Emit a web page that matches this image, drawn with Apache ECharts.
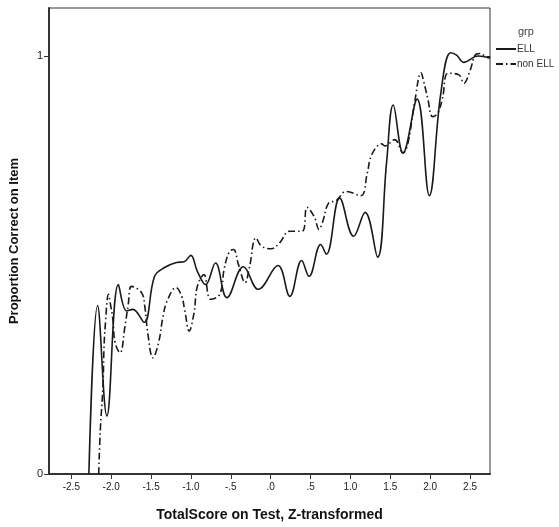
<!DOCTYPE html>
<html>
<head>
<meta charset="utf-8">
<script src="https://cdn.jsdelivr.net/npm/echarts@6/dist/echarts.min.js"></script>
<style>
  html, body { margin: 0; padding: 0; background: #fff; }
  #chart { width: 559px; height: 527px; }
</style>
</head>
<body>
<div id="chart"></div>
<script>
// Ось X: деления и подписи в формате SPSS
const xTicks = [-2.5, -2, -1.5, -1, -0.5, 0, 0.5, 1, 1.5, 2, 2.5];
const xTickLabels = ['-2.5', '-2.0', '-1.5', '-1.0', '-.5', '.0', '.5', '1.0', '1.5', '2.0', '2.5'];
const yTicks = [0, 1];

// Группа ELL (сплошная линия)
const ellX = [-2.28, -2.17, -2.054, -1.91, -1.806, -1.728, -1.588, -1.456, -1.332, -1.183, -1.084, -1.002,
  -0.92, -0.816, -0.692, -0.549, -0.342, -0.156, 0.091, 0.24, 0.388, 0.481, 0.627, 0.698, 0.865,
  1.04, 1.184, 1.341, 1.453, 1.536, 1.659, 1.836, 1.989, 2.133, 2.257, 2.331, 2.42, 2.6, 2.75];
const ellY = [0, 0.403, 0.139, 0.453, 0.39, 0.394, 0.363, 0.473, 0.494, 0.506, 0.508, 0.523,
  0.485, 0.453, 0.505, 0.422, 0.496, 0.442, 0.499, 0.425, 0.511, 0.473, 0.549, 0.526, 0.66,
  0.569, 0.626, 0.519, 0.745, 0.883, 0.768, 0.897, 0.666, 0.911, 1.008, 1.002, 0.985, 1.0, 0.995];

// Группа non ELL (штрихпунктир)
const nonEllX = [-2.157, -2.136, -2.103, -2.091, -2.075, -2.034, -2.013, -1.979, -1.951, -1.889, -1.827,
  -1.786, -1.744, -1.62, -1.58, -1.539, -1.477, -1.406, -1.353, -1.299, -1.187, -1.118, -1.076,
  -1.023, -0.961, -0.92, -0.837, -0.754, -0.639, -0.581, -0.515, -0.466, -0.404, -0.321, -0.268,
  -0.185, -0.115, 0.008, 0.112, 0.236, 0.394, 0.456, 0.545, 0.607, 0.654, 0.726, 0.821, 0.945,
  1.131, 1.211, 1.267, 1.391, 1.432, 1.555, 1.659, 1.721, 1.803, 1.886, 1.919, 1.969, 2.031,
  2.093, 2.154, 2.224, 2.36, 2.422, 2.496, 2.579, 2.628, 2.711, 2.752];
const nonEllY = [0, 0.107, 0.211, 0.298, 0.354, 0.43, 0.41, 0.37, 0.314, 0.29, 0.354,
  0.406, 0.449, 0.434, 0.402, 0.334, 0.278, 0.314, 0.374, 0.414, 0.446, 0.426, 0.39,
  0.342, 0.386, 0.449, 0.477, 0.418, 0.43, 0.493, 0.533, 0.537, 0.501, 0.458, 0.493,
  0.565, 0.545, 0.539, 0.553, 0.581, 0.581, 0.638, 0.616, 0.585, 0.605, 0.648, 0.654, 0.676,
  0.666, 0.72, 0.764, 0.79, 0.785, 0.8, 0.768, 0.792, 0.887, 0.96, 0.939, 0.899, 0.855,
  0.863, 0.899, 0.959, 0.955, 0.935, 0.963, 1.005, 1.006, 0.998, 0.998];

const zip = (xs, ys) => xs.map((x, i) => [x, ys[i]]);

const chart = echarts.init(document.getElementById('chart'), null, { renderer: 'canvas' });

const font = 'Liberation Sans, Arial, sans-serif';

const option = {
    animation: false,
    title: {
        text: 'grp',
        left: 513,
        top: 21,
        textStyle: { fontFamily: font, fontSize: 11, fontWeight: 'normal', color: '#444' }
    },
    legend: {
        orient: 'vertical',
        left: 490,
        top: 39,
        itemWidth: 20,
        itemHeight: 8,
        itemGap: 5,
        itemStyle: { color: 'rgba(0,0,0,0)', borderWidth: 0 },
        textStyle: { fontFamily: font, fontSize: 10, color: '#333', padding: [0, 0, 0, -4] },
        data: ['ELL', 'non ELL']
    },
    grid: {
        left: 43,
        right: 69,
        top: 8,
        bottom: 52,
        show: true,
        borderColor: '#333',
        borderWidth: 1,
        containLabel: false
    },
    xAxis: {
        type: 'value',
        min: -2.78,
        max: 2.75,
        name: 'TotalScore on Test, Z-transformed',
        nameLocation: 'middle',
        nameGap: 34,
        nameTextStyle: { fontFamily: font, fontSize: 14, fontWeight: 'bold', color: '#111' },
        axisLine: { show: true, onZero: false, lineStyle: { color: '#333', width: 2 } },
        axisTick: { show: true, customValues: xTicks, length: 5, lineStyle: { color: '#333' } },
        axisLabel: {
            customValues: xTicks,
            margin: 8,
            fontFamily: font,
            fontSize: 10,
            color: '#222',
            formatter: v => {
                const i = xTicks.findIndex(t => Math.abs(t - v) < 1e-6);
                return i >= 0 ? xTickLabels[i] : '';
            }
        },
        splitLine: { show: false }
    },
    yAxis: {
        type: 'value',
        min: 0,
        max: 1.115,
        name: 'Proportion Correct on Item',
        nameLocation: 'middle',
        nameGap: 28,
        nameTextStyle: { fontFamily: font, fontSize: 13, fontWeight: 'bold', color: '#111' },
        axisLine: { show: true, onZero: false, lineStyle: { color: '#333', width: 2 } },
        axisTick: { show: true, customValues: yTicks, length: 5, lineStyle: { color: '#333' } },
        axisLabel: {
            customValues: yTicks,
            margin: 6,
            fontFamily: font,
            fontSize: 11,
            color: '#222'
        },
        splitLine: { show: false }
    },
    series: [
        {
            name: 'ELL',
            type: 'line',
            data: zip(ellX, ellY),
            smooth: 0.4,
            symbol: 'none',
            lineStyle: { color: '#1a1a1a', width: 1.6 },
            itemStyle: { color: '#1a1a1a' }
        },
        {
            name: 'non ELL',
            type: 'line',
            data: zip(nonEllX, nonEllY),
            smooth: 0.4,
            symbol: 'none',
            lineStyle: { color: '#1a1a1a', width: 1.6, type: [7, 3, 1.5, 3] },
            itemStyle: { color: '#1a1a1a' }
        }
    ]
};

chart.setOption(option);
</script>
</body>
</html>
